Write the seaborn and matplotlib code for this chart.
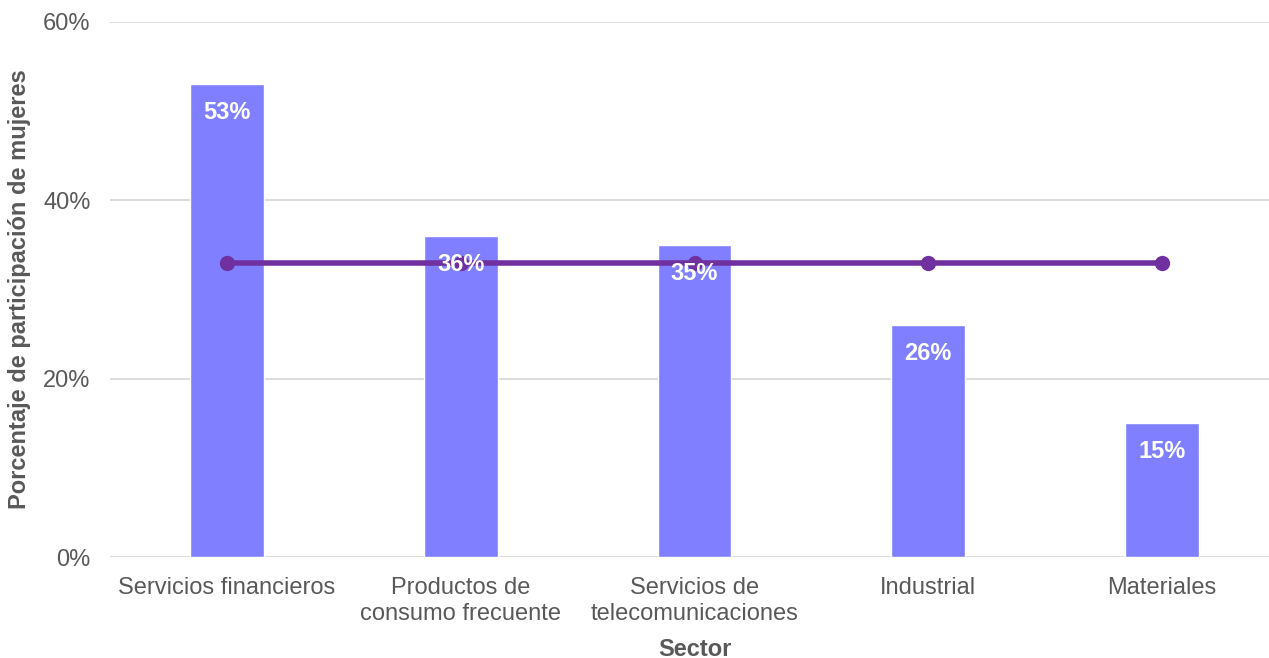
import matplotlib
matplotlib.use("Agg")
import matplotlib.pyplot as plt
import seaborn as sns
import pandas as pd

sectors = ["Servicios financieros", "Productos de\nconsumo frecuente",
           "Servicios de\ntelecomunicaciones", "Industrial", "Materiales"]
women_share = [53, 36, 35, 26, 15]
average_share = [33, 33, 33, 33, 33]
y_ticks = [0, 20, 40, 60]

bar_color = "#7F7FFF"
line_color = "#7030A0"
text_gray = "#595959"

sns.set_theme(style="white")
plt.rcParams["font.family"] = ["Liberation Sans", "DejaVu Sans"]

df = pd.DataFrame({"Sector": sectors, "share": women_share, "avg": average_share})

fig = plt.figure(figsize=(12.69, 6.58), dpi=100)
ax = fig.add_axes([110 / 1269, 1 - 557 / 658, 1169 / 1269, 535 / 658])

sns.barplot(data=df, x="Sector", y="share", color=bar_color, width=0.315,
            saturation=1, ax=ax, zorder=2)
ax.plot(range(len(sectors)), df["avg"], color=line_color, lw=4,
        marker="o", markersize=10, zorder=3)

for i, v in enumerate(women_share):
    ax.annotate(f"{v}%", (i, v), xytext=(0, -20.5), textcoords="offset points",
                ha="center", va="center", color="white", fontsize=17,
                fontweight="bold", zorder=4)

ax.set_xlim(-0.5, len(sectors) - 0.5)
ax.set_ylim(0, 60)
ax.set_yticks(y_ticks)
ax.set_yticklabels([f"{t}%" for t in y_ticks])
ax.yaxis.grid(True, color="#D9D9D9", lw=1.3, zorder=0)
ax.set_axisbelow(True)
for s in ax.spines.values():
    s.set_visible(False)
ax.tick_params(axis="both", length=0, labelsize=17, colors=text_gray)
ax.tick_params(axis="x", pad=14.5)
ax.tick_params(axis="y", pad=14)
for lbl in ax.get_xticklabels():
    lbl.set_linespacing(1.2)
ax.set_xlabel("Sector", fontsize=17, fontweight="bold", color=text_gray)
ax.set_ylabel("Porcentaje de participación de mujeres", fontsize=17,
              fontweight="bold", color=text_gray)
ax.xaxis.set_label_coords(0.5, -92 / 535)
ax.xaxis.label.set_va("center")
ax.yaxis.set_label_coords(-90 / 1169, 0.5)
ax.yaxis.label.set_va("center")

fig.savefig("out.png", dpi=100)
